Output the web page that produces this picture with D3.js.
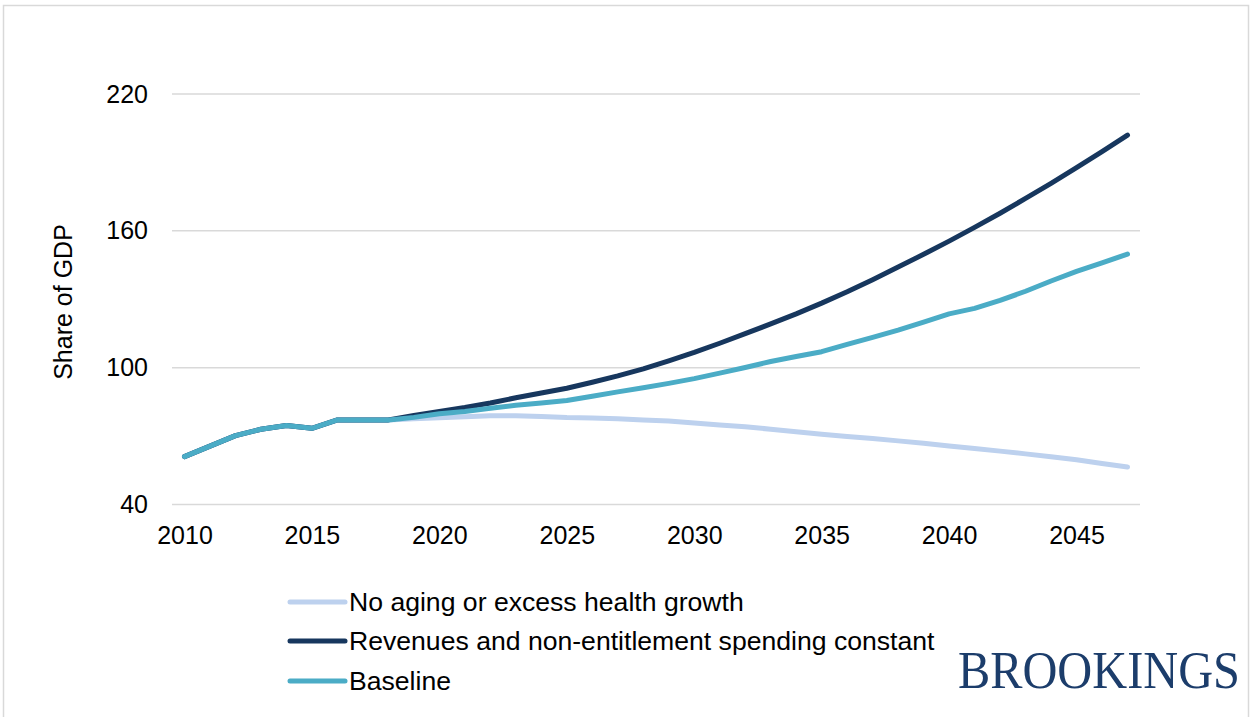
<!DOCTYPE html>
<html>
<head>
<meta charset="utf-8">
<script src="https://cdn.jsdelivr.net/npm/d3@7"></script>
<style>
  html, body { margin: 0; padding: 0; background: #fff; }
  svg { display: block; font-family: "Liberation Sans", Arial, sans-serif; }
</style>
</head>
<body>
<svg id="chart" width="1252" height="717"></svg>
<script>
const years = d3.range(2010, 2048);
const common = [61.0, 65.6, 70.2, 73.0, 74.6, 73.4, 77.1, 77.1, 77.1];
const noAging = common.concat([77.6, 78.0, 78.5, 78.9, 78.9, 78.6, 78.1, 77.9, 77.6, 77.1, 76.6, 75.7, 74.9, 74.1, 73.0, 71.9, 70.8, 69.8, 68.9, 67.9, 66.9, 65.7, 64.6, 63.4, 62.2, 60.9, 59.6, 58.0, 56.4]);
const revenuesConstant = common.concat([79.0, 80.8, 82.5, 84.5, 86.8, 88.9, 91.0, 93.6, 96.4, 99.5, 103.0, 106.7, 110.7, 114.9, 119.2, 123.6, 128.3, 133.3, 138.6, 144.1, 149.7, 155.5, 161.5, 167.7, 174.2, 180.8, 187.7, 194.7, 202.0]);
const baseline = common.concat([78.2, 79.8, 80.8, 82.2, 83.5, 84.5, 85.6, 87.5, 89.4, 91.2, 93.1, 95.2, 97.6, 100.1, 102.7, 104.9, 107.0, 110.2, 113.3, 116.5, 120.0, 123.6, 126.0, 129.5, 133.5, 138.0, 142.2, 146.0, 149.8]);
const yTicks = [40, 100, 160, 220];
const xTicks = [2010, 2015, 2020, 2025, 2030, 2035, 2040, 2045];
const seriesNames = ["No aging or excess health growth", "Revenues and non-entitlement spending constant", "Baseline"];
const seriesColors = ["#bdd1ee", "#17375e", "#4bacc6"];
const seriesValues = [noAging, revenuesConstant, baseline];

const svg = d3.select("#chart");

// outer border
svg.append("rect").attr("x", 3.5).attr("y", 5.5).attr("width", 1245).attr("height", 730)
  .attr("fill", "none").attr("stroke", "#d9d9d9").attr("stroke-width", 1.5);

const x = d3.scaleLinear().domain([2010, 2047]).range([184.5, 1127.5]);
const y = d3.scaleLinear().domain([40, 220]).range([504.5, 94]);

// gridlines
svg.append("g").selectAll("line").data(yTicks).join("line")
  .attr("x1", 172).attr("x2", 1140)
  .attr("y1", d => y(d)).attr("y2", d => y(d))
  .attr("stroke", "#d9d9d9").attr("stroke-width", 1.5);

// y axis labels
const yAxis = svg.append("g").attr("transform", "translate(172,0)")
  .call(d3.axisLeft(y).tickValues(yTicks).tickSize(0).tickPadding(24));
yAxis.select(".domain").remove();
yAxis.selectAll("text").attr("font-size", 25).attr("fill", "#000")
  .attr("font-family", "Liberation Sans, Arial, sans-serif");

// x axis labels
const xAxis = svg.append("g").attr("transform", "translate(0,526)")
  .call(d3.axisBottom(x).tickValues(xTicks).tickFormat(d3.format("d")).tickSize(0).tickPadding(0));
xAxis.select(".domain").remove();
xAxis.selectAll("text").attr("font-size", 25).attr("fill", "#000")
  .attr("font-family", "Liberation Sans, Arial, sans-serif");

// y title
svg.append("text").attr("transform", "translate(72,302) rotate(-90)")
  .attr("text-anchor", "middle").attr("font-size", 25).attr("fill", "#000")
  .text("Share of GDP");

// lines
const line = d3.line().x((d, i) => x(years[i])).y(d => y(d));
seriesValues.forEach((vals, k) => {
  svg.append("path").datum(vals).attr("d", line)
    .attr("fill", "none").attr("stroke", seriesColors[k]).attr("stroke-width", 5)
    .attr("stroke-linecap", "round").attr("stroke-linejoin", "round");
});

// legend
const legendY = [602, 641, 681];
const lg = svg.append("g");
seriesNames.forEach((name, k) => {
  lg.append("line").attr("x1", 290).attr("x2", 345)
    .attr("y1", legendY[k]).attr("y2", legendY[k])
    .attr("stroke", seriesColors[k]).attr("stroke-width", 5).attr("stroke-linecap", "round");
  lg.append("text").attr("x", 349).attr("y", legendY[k]).attr("dy", "0.35em")
    .attr("font-size", 26.6).attr("fill", "#000").text(name);
});

// Brookings logo text
const logo = svg.append("g");
const logoText = logo.append("text").attr("x", 0).attr("y", 0)
  .attr("font-family", "Liberation Serif, Times New Roman, serif")
  .attr("font-size", 52).attr("fill", "#1c3d6b")
  .text("BROOKINGS");
const natW = logoText.node().getComputedTextLength();
logo.attr("transform", `translate(958,688) scale(${282 / natW},1)`);
</script>
</body>
</html>
